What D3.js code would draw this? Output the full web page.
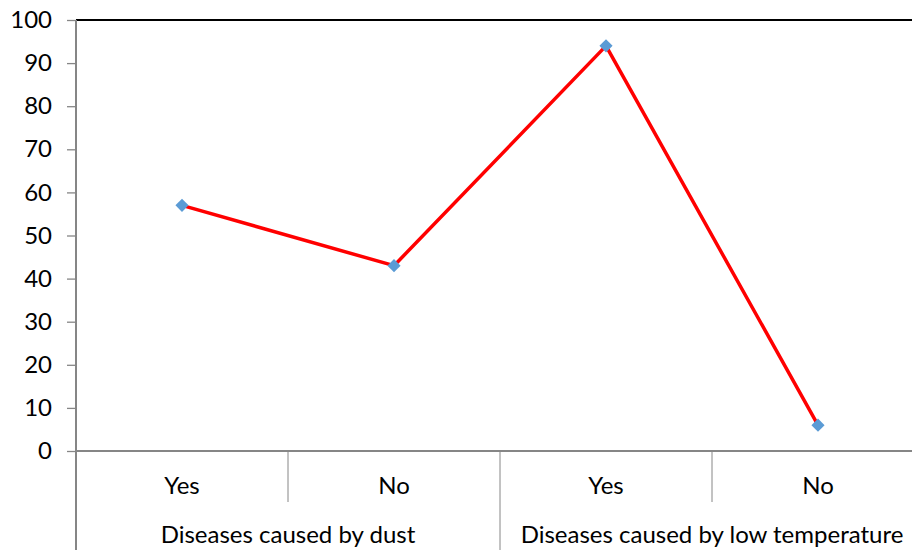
<!DOCTYPE html>
<html><head><meta charset="utf-8">
<script src="https://cdn.jsdelivr.net/npm/d3@7"></script>
<style>body{margin:0;background:#fff}svg{display:block}text{font-family:Lato,"Open Sans",sans-serif;fill:#000}</style>
</head><body><svg id="c" width="912" height="550"></svg>
<script>
const groups = ["Diseases caused by dust", "Diseases caused by low temperature"];
const categories = ["Yes", "No", "Yes", "No"];
const values = [57, 43, 94, 6];
const yTicks = [0,10,20,30,40,50,60,70,80,90,100];

(function(){
const svg = d3.select("#c");
const mL = 76, mT = 20, mB = 451, mR = 924;
const fs = "24px";
const x = d3.scaleBand().domain(d3.range(categories.length)).range([mL, mR]);
const y = d3.scaleLinear().domain([0, 100]).range([mB, mT]);

svg.append("line").attr("x1", mL).attr("x2", 912).attr("y1", mT).attr("y2", mT)
  .attr("stroke", "#000").attr("stroke-width", 2);

const yAxis = svg.append("g").attr("transform", `translate(${mL},0)`)
  .call(d3.axisLeft(y).tickValues(yTicks).tickSize(9).tickPadding(15));
yAxis.select(".domain").remove();
yAxis.selectAll("line").attr("stroke", "#868686").attr("stroke-width", 1.3);
yAxis.selectAll("text").style("font-size", fs).style("font-family", "Lato,'Open Sans',sans-serif").attr("fill", "#000");
svg.append("line").attr("x1", mL).attr("x2", mL).attr("y1", mT).attr("y2", 550)
  .attr("stroke", "#868686").attr("stroke-width", 2);
svg.append("line").attr("x1", mL).attr("x2", 912).attr("y1", mB).attr("y2", mB)
  .attr("stroke", "#868686").attr("stroke-width", 2);

categories.forEach((c, i) => {
  if (i === 0) return;
  const xx = x(i);
  const isGroup = i % 2 === 0;
  svg.append("line").attr("x1", xx).attr("x2", xx).attr("y1", mB).attr("y2", isGroup ? 550 : 502)
    .attr("stroke", "#868686").attr("stroke-width", 1);
});
svg.selectAll(".cat").data(categories).enter().append("text")
  .attr("x", (d, i) => x(i) + x.bandwidth() / 2).attr("y", 494)
  .attr("text-anchor", "middle").style("font-size", fs).text(d => d);
svg.selectAll(".grp").data(groups).enter().append("text")
  .attr("x", (d, i) => (x(i*2) + x(i*2+1) + x.bandwidth()) / 2).attr("y", 543)
  .attr("text-anchor", "middle").style("font-size", fs).text(d => d);

const line = d3.line().x((d, i) => x(i) + x.bandwidth() / 2).y(d => y(d));
svg.append("path").datum(values).attr("d", line).attr("fill", "none")
  .attr("stroke", "#ff0000").attr("stroke-width", 3.5).attr("stroke-linejoin", "round");
svg.selectAll(".pt").data(values).enter().append("path")
  .attr("d", d3.symbol().type(d3.symbolDiamond2).size(110))
  .attr("transform", (d, i) => `translate(${x(i) + x.bandwidth() / 2},${y(d)})`)
  .attr("fill", "#5b9bd5");
})();
</script></body></html>
